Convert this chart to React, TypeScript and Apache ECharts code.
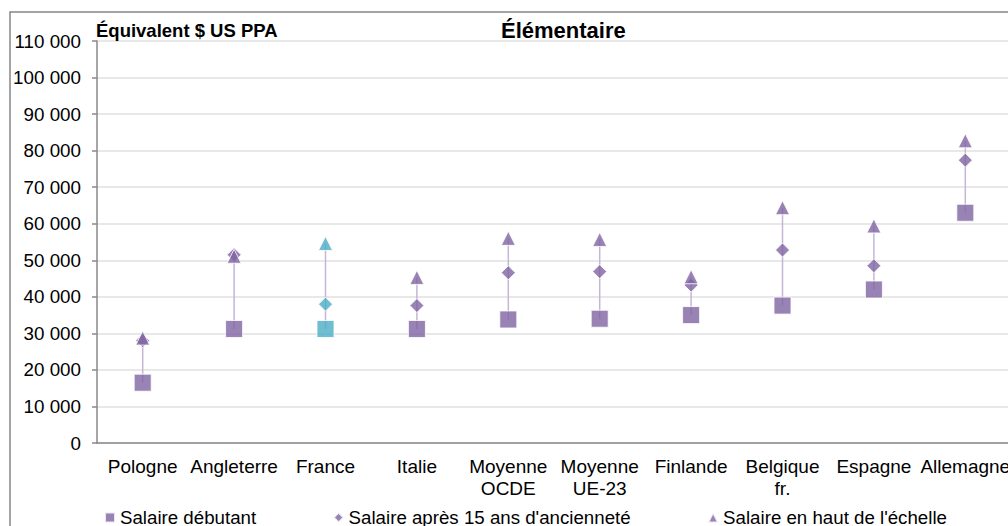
import React, { useEffect, useRef } from "react";
import * as echarts from "echarts";

const categories = [
  "Pologne",
  "Angleterre",
  "France",
  "Italie",
  "Moyenne\nOCDE",
  "Moyenne\nUE-23",
  "Finlande",
  "Belgique\nfr.",
  "Espagne",
  "Allemagne",
];
const salaireDebutant = [16500, 31200, 31200, 31200, 33800, 34000, 35000, 37600, 42000, 63000];
const salaire15ans = [28000, 51500, 38000, 37600, 46600, 46900, 43200, 52800, 48500, 77400];
const salaireHaut = [28700, 51100, 54600, 45300, 56000, 55700, 45500, 64400, 59400, 82700];
const yTicks = { min: 0, max: 110000, interval: 10000 };
const highlightCategory = "France";

const PURPLE = "#8064A2";
const TEAL = "#4BACC6";
const FONT = "'Liberation Sans', Arial, sans-serif";

const fmt = (v: number) => String(v).replace(/\B(?=(\d{3})+(?!\d))/g, " ");

export default function App() {
  const ref = useRef<HTMLDivElement>(null);
  useEffect(() => {
    if (!ref.current) return;
    const chart = echarts.init(ref.current, undefined, { renderer: "svg" });
    const hi = categories.indexOf(highlightCategory);
    const colorize = (arr: number[]) =>
      arr.map((v, i) => (i === hi ? { value: v, itemStyle: { color: TEAL } } : v));
    const markerStyle = { color: PURPLE, borderColor: "#ffffff", borderWidth: 1 };
    chart.setOption({
      animation: false,
      backgroundColor: "#ffffff",
      textStyle: { fontFamily: FONT },
      title: [
        {
          text: "Élémentaire",
          left: 501,
          top: 19,
          padding: 0,
          textStyle: { fontSize: 22, fontWeight: "bold", color: "#000", fontFamily: FONT },
        },
        {
          text: "Équivalent $ US PPA",
          left: 96,
          top: 21,
          padding: 0,
          textStyle: { fontSize: 18.5, fontWeight: "bold", color: "#000", fontFamily: FONT },
        },
      ],
      graphic: [
        {
          type: "rect",
          shape: { x: 10, y: 12, width: 1200, height: 700 },
          style: { fill: "none", stroke: "#868686", lineWidth: 1.5 },
          silent: true,
          z: -10,
        },
      ],
      legend: {
        left: 104,
        top: 508,
        padding: 0,
        itemGap: 76.5,
        itemWidth: 10,
        itemHeight: 10,
        textStyle: { fontSize: 18.7, color: "#000", fontFamily: FONT },
        data: [
          { name: "Salaire débutant", icon: "rect" },
          { name: "Salaire après 15 ans d'ancienneté", icon: "diamond" },
          { name: "Salaire en haut de l'échelle", icon: "triangle" },
        ],
      },
      grid: { left: 97, top: 41, right: 29, bottom: 83 },
      xAxis: {
        type: "category",
        data: categories,
        boundaryGap: true,
        axisLine: { lineStyle: { color: "#888888", width: 1.5 } },
        axisTick: { show: false },
        axisLabel: {
          interval: 0,
          fontSize: 19,
          lineHeight: 22,
          color: "#000",
          margin: 12,
          fontFamily: FONT,
        },
      },
      yAxis: {
        type: "value",
        min: yTicks.min,
        max: yTicks.max,
        interval: yTicks.interval,
        axisLine: { show: true, lineStyle: { color: "#888888", width: 1.5 } },
        axisTick: { show: true, length: 5, lineStyle: { color: "#888888", width: 1.5 } },
        splitLine: { lineStyle: { color: "#E0E0E0", width: 1.5 } },
        axisLabel: {
          fontSize: 18.8,
          color: "#000",
          margin: 16,
          fontFamily: FONT,
          formatter: (v: number) => fmt(v),
        },
      },
      series: [
        {
          type: "custom",
          name: "range",
          silent: true,
          z: 1,
          encode: { x: 0, y: [1, 2] },
          data: categories.map((_, i) => [i, salaireDebutant[i], salaireHaut[i]]),
          renderItem: (params: any, api: any) => {
            const x = api.value(0);
            const lo = api.coord([x, api.value(1)]);
            const hiP = api.coord([x, api.value(2)]);
            return {
              type: "line",
              shape: { x1: lo[0], y1: lo[1], x2: hiP[0], y2: hiP[1] },
              style: { stroke: "#C3B6D6", lineWidth: 1.5 },
            };
          },
        },
        {
          type: "scatter",
          name: "Salaire débutant",
          symbol: "rect",
          symbolSize: 17,
          z: 3,
          itemStyle: markerStyle,
          data: colorize(salaireDebutant),
        },
        {
          type: "scatter",
          name: "Salaire après 15 ans d'ancienneté",
          symbol: "diamond",
          symbolSize: 14,
          z: 4,
          itemStyle: markerStyle,
          data: colorize(salaire15ans),
        },
        {
          type: "scatter",
          name: "Salaire en haut de l'échelle",
          symbol: "triangle",
          symbolSize: 14,
          z: 5,
          itemStyle: markerStyle,
          data: colorize(salaireHaut),
        },
      ],
    });
    return () => chart.dispose();
  }, []);
  return (
    <div
      style={{
        position: "fixed",
        left: 0,
        top: 0,
        width: 1008,
        height: 526,
        overflow: "hidden",
        background: "#fff",
      }}
    >
      <div ref={ref} style={{ width: 1040, height: 526 }} />
    </div>
  );
}
